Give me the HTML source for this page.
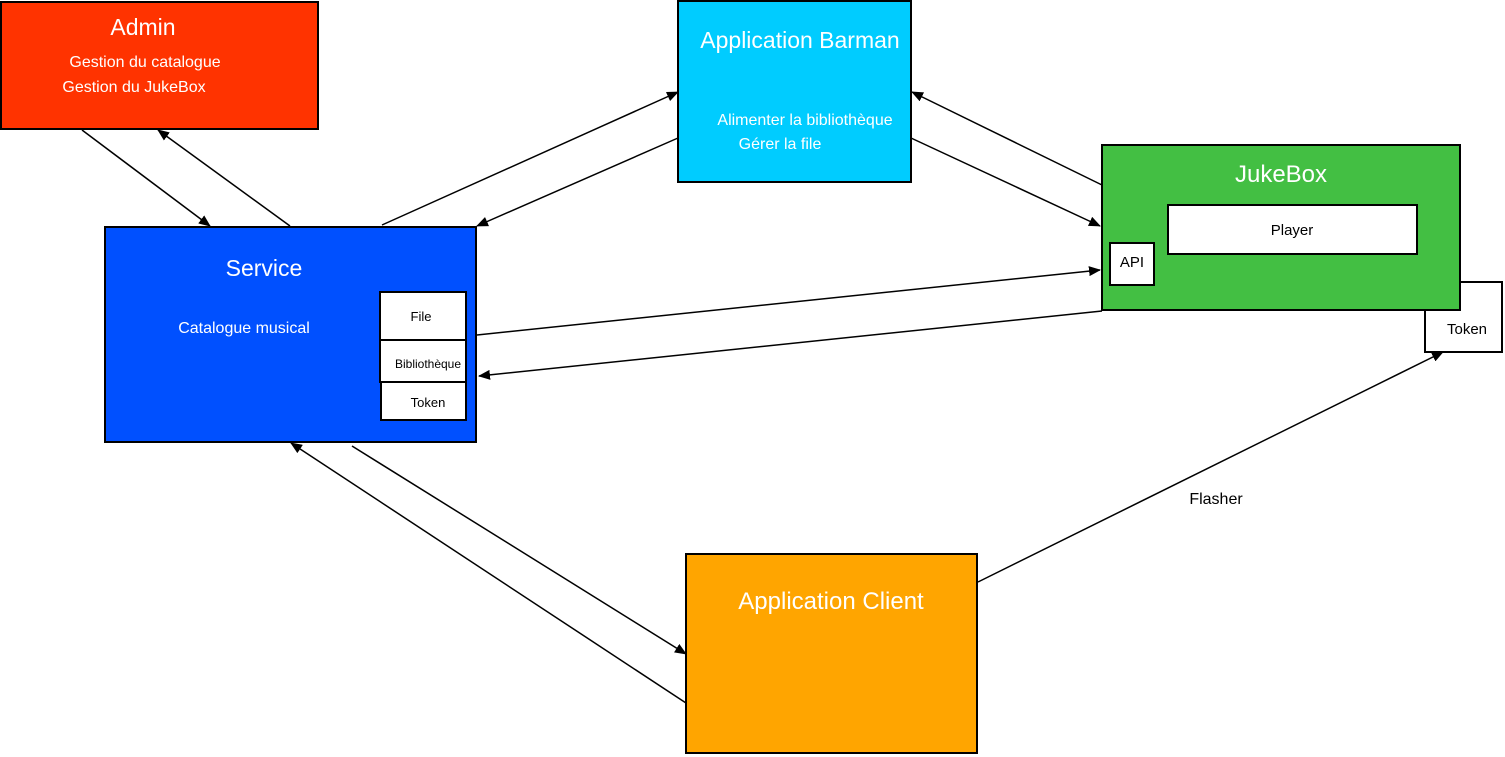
<!DOCTYPE html><html><head><style>body{margin:0;background:#fff}svg{display:block}text{font-family:"Liberation Sans",sans-serif}</style></head><body>
<svg width="1505" height="757" xmlns="http://www.w3.org/2000/svg">
<defs><marker id="a" markerWidth="12" markerHeight="10" refX="11" refY="5" orient="auto" markerUnits="userSpaceOnUse"><path d="M0,0 L12,5 L0,10 z" fill="#000"/></marker></defs>
<rect x="1425" y="282" width="77" height="70" fill="#fff" stroke="#000" stroke-width="2"/>
<text x="1467" y="334" font-size="15" text-anchor="middle">Token</text>
<rect x="1" y="2" width="317" height="127" fill="#ff3300" stroke="#000" stroke-width="2"/>
<text x="143" y="35" font-size="23" fill="#fff" text-anchor="middle">Admin</text>
<text x="145" y="67" font-size="16" fill="#fff" text-anchor="middle">Gestion du catalogue</text>
<text x="134" y="92" font-size="16" fill="#fff" text-anchor="middle">Gestion du JukeBox</text>
<rect x="678" y="1" width="233" height="181" fill="#00ccff" stroke="#000" stroke-width="2"/>
<text x="800" y="48" font-size="23" fill="#fff" text-anchor="middle">Application Barman</text>
<text x="805" y="125" font-size="16" fill="#fff" text-anchor="middle">Alimenter la bibliothèque</text>
<text x="780" y="149" font-size="16" fill="#fff" text-anchor="middle">Gérer la file</text>
<rect x="1102" y="145" width="358" height="165" fill="#43bf43" stroke="#000" stroke-width="2"/>
<text x="1281" y="182" font-size="24" fill="#fff" text-anchor="middle">JukeBox</text>
<rect x="1168" y="205" width="249" height="49" fill="#fff" stroke="#000" stroke-width="2"/>
<text x="1292" y="235" font-size="15" text-anchor="middle">Player</text>
<rect x="1110" y="243" width="44" height="42" fill="#fff" stroke="#000" stroke-width="2"/>
<text x="1132" y="267" font-size="15" text-anchor="middle">API</text>
<rect x="105" y="227" width="371" height="215" fill="#0050ff" stroke="#000" stroke-width="2"/>
<text x="264" y="276" font-size="23" fill="#fff" text-anchor="middle">Service</text>
<text x="244" y="333" font-size="16" fill="#fff" text-anchor="middle">Catalogue musical</text>
<rect x="380" y="292" width="86" height="48" fill="#fff" stroke="#000" stroke-width="2"/>
<text x="421" y="321" font-size="13" text-anchor="middle">File</text>
<rect x="380" y="340" width="86" height="42" fill="#fff" stroke="#000" stroke-width="2"/>
<text x="428" y="368" font-size="12" text-anchor="middle">Bibliothèque</text>
<rect x="381" y="382" width="85" height="38" fill="#fff" stroke="#000" stroke-width="2"/>
<text x="428" y="407" font-size="13" text-anchor="middle">Token</text>
<rect x="686" y="554" width="291" height="199" fill="#ffa500" stroke="#000" stroke-width="2"/>
<text x="831" y="609" font-size="24" fill="#fff" text-anchor="middle">Application Client</text>
<g stroke="#000" stroke-width="1.5" marker-end="url(#a)">
<line x1="82" y1="130" x2="210" y2="226"/>
<line x1="290" y1="226" x2="158" y2="130"/>
<line x1="382" y1="225" x2="678" y2="92"/>
<line x1="678" y1="138" x2="477" y2="226"/>
<line x1="1102" y1="185" x2="912" y2="92"/>
<line x1="911" y1="138" x2="1100" y2="226"/>
<line x1="477" y1="335" x2="1100" y2="270"/>
<line x1="1102" y1="311" x2="479" y2="376"/>
<line x1="686" y1="703" x2="291" y2="443"/>
<line x1="352" y1="446" x2="686" y2="654"/>
<line x1="978" y1="582" x2="1443" y2="352"/>
</g>
<text x="1216" y="504" font-size="16" text-anchor="middle">Flasher</text>
</svg></body></html>
